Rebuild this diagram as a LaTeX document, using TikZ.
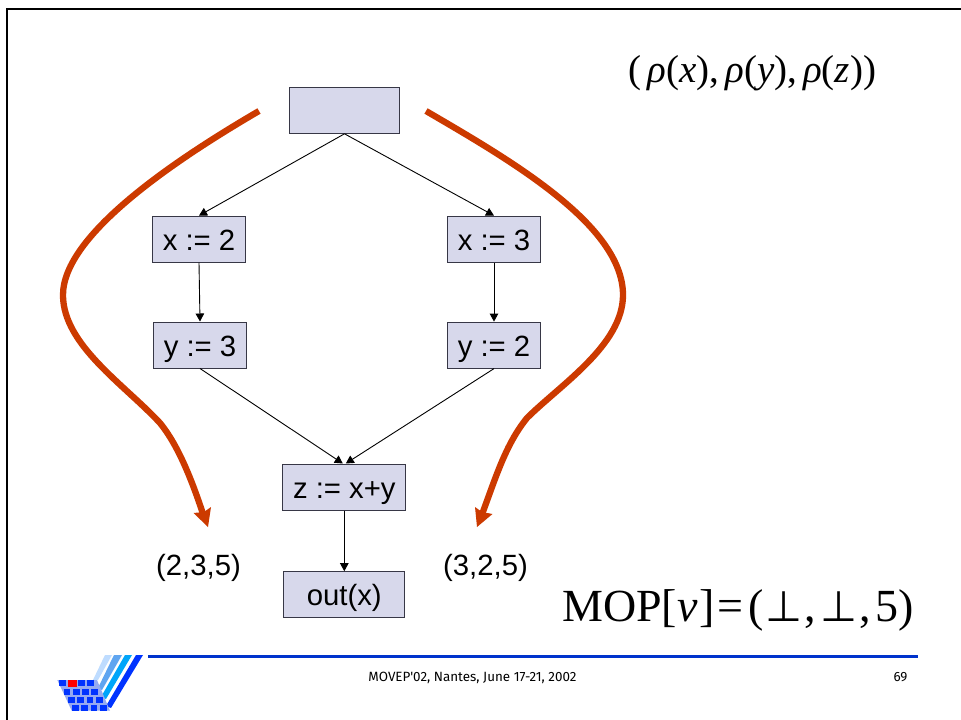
\documentclass[tikz,border=0pt]{standalone}
\usepackage{fontspec}
\usetikzlibrary{arrows.meta}
\setmainfont{Liberation Sans}
\newfontfamily\tms{Liberation Serif}
\newfontfamily\djv{DejaVu Sans}
\newfontfamily\foot{Fira Sans}
\definecolor{boxfill}{RGB}{215,216,235}
\definecolor{boxline}{RGB}{55,55,70}
\definecolor{redline}{RGB}{204,58,0}
\definecolor{footblue}{RGB}{0,51,204}
\definecolor{logoblue}{RGB}{0,51,255}
\definecolor{logocyan}{RGB}{0,165,250}
\definecolor{logomid}{RGB}{95,165,240}
\definecolor{logolight}{RGB}{190,220,255}
\definecolor{logobase}{RGB}{150,170,240}
\tikzset{
  flowbox/.style={draw=boxline,fill=boxfill,line width=1pt,inner sep=0pt,text height=22pt,text depth=0pt,
    font=\fontsize{29.3}{31}\selectfont},
  wide/.style={minimum width=93.5pt,minimum height=46pt},
  flowedge/.style={draw=black,line width=0.9pt,-{Triangle[length=8pt,width=8.5pt]}},
  sweep/.style={draw=redline,line width=6.3pt},
  sweephead/.style={fill=redline,draw=none},
  tuple/.style={anchor=base,inner sep=0pt,font=\fontsize{29.3}{31}\selectfont},
  formula/.style={anchor=base west,inner sep=0pt,text=black},
  footer/.style={anchor=base,inner sep=0pt,font=\foot\fontsize{13.4}{15}\selectfont},
}
\newcommand{\botm}{{\djv\fontsize{42.5}{44}\selectfont ⊥}}
\begin{document}
\begin{tikzpicture}[x=1pt,y=-1pt]
\useasboundingbox (0,0) rectangle (961,720);
\fill[white] (0,0) rectangle (961,720);
% frame
\draw[black,line width=2.4pt] (7,720) -- (7,9) -- (961,9);
% boxes
\node[flowbox,minimum width=109.5pt,minimum height=46pt] (top) at (344.5,110.3) {};
\node[flowbox,wide] (x2) at (199,239.1) {x := 2};
\node[flowbox,wide] (y3) at (200,345) {y := 3};
\node[flowbox,wide] (x3) at (494,239.1) {x := 3};
\node[flowbox,wide] (y2) at (494,345.1) {y := 2};
\node[flowbox,minimum width=123.3pt,minimum height=46pt] (z) at (344.3,487) {z := x+y};
\node[flowbox,minimum width=121.3pt,minimum height=45.6pt] (out) at (344.3,594.5) {out(x)};
% edges
\draw[flowedge] (top.south) -- (x2.north);
\draw[flowedge] (top.south) -- (x3.north);
\draw[flowedge] (x2.south) -- (y3.north);
\draw[flowedge] (x3.south) -- (y2.north);
\draw[flowedge] (y3.south) -- ([xshift=-1.5pt]z.north);
\draw[flowedge] (y2.south) -- ([xshift=1.5pt]z.north);
\draw[flowedge] (z.south) -- (out.north);
% red sweeps
\coordinate (ls) at (259,111);
\coordinate (lm) at (63,295);
\coordinate (ln) at (160,423);
\coordinate (le) at (204,517);
\coordinate (rs) at (426,111);
\coordinate (rm) at (623,295);
\coordinate (rn) at (527,418);
\coordinate (re) at (481,517);
\draw[sweep] (ls) .. controls (175,160) and (63,235) .. (lm)
  .. controls (63,345) and (125,385) .. (ln)
  .. controls (178,445) and (192,480) .. (le);
\fill[sweephead] (208,527) -- (193.5,513) -- (204,512) -- (211,507) -- cycle;
\draw[sweep] (rs) .. controls (510,160) and (623,225) .. (rm)
  .. controls (623,345) and (560,385) .. (rn)
  .. controls (505,445) and (495,480) .. (re);
\fill[sweephead] (477,527) -- (475,507) -- (482,512) -- (492.5,514) -- cycle;
% tuples
\node[tuple] (t1) at (198.5,575) {(2,3,5)};
\node[tuple] (t2) at (485.5,575) {(3,2,5)};
% formulas
\node[formula,font=\tms\fontsize{39}{41}\selectfont] (rho) at (628,82)
  {(\,\textit{ρ}(\textit{x}),\hspace{6pt}\textit{ρ}(\textit{y}),\hspace{6pt}\textit{ρ}(\textit{z}))};
\node[formula,font=\tms\fontsize{46}{48}\selectfont] (mop) at (562,621.7)
  {MOP[\textit{v}\hspace{2pt}]\hspace{3pt}=\hspace{5pt}(\hspace{1pt}\botm\hspace{2.5pt},\hspace{4pt}\botm\hspace{2.5pt},\hspace{4pt}5)};
% footer
\draw[footblue,line width=3pt] (148,656.3) -- (918,656.3);
\node[footer] (f1) at (472.5,681) {MOVEP'02, Nantes, June 17-21, 2002};
\node[footer] (f2) at (900.5,681) {69};
% logo stripes
\fill[logolight] (93,680) -- (98,680) -- (112,655) -- (105,655) -- cycle;
\fill[logomid] (98,688) -- (102,690) -- (122,655) -- (114,655) -- cycle;
\fill[logocyan] (101,697) -- (106,699) -- (132,655) -- (125,655) -- cycle;
\fill[logoblue] (106,706) -- (111,708) -- (143,655) -- (136,655) -- cycle;
% logo basket
\fill[logobase] (57.3,680) -- (97,680) -- (110,710.7) -- (71.7,710.7) -- cycle;
\foreach \yy/\dx in {680/0,689/4.2,697.3/8.6,705/12.7}{
  \foreach \i in {0,1,2,3}{
    \fill[logoblue] ({59.3+\dx+\i*9.3},\yy) rectangle ++(6.8,6);
  }
}
\fill[red] (68.3,680) rectangle ++(8.3,7);
\end{tikzpicture}
\end{document}
